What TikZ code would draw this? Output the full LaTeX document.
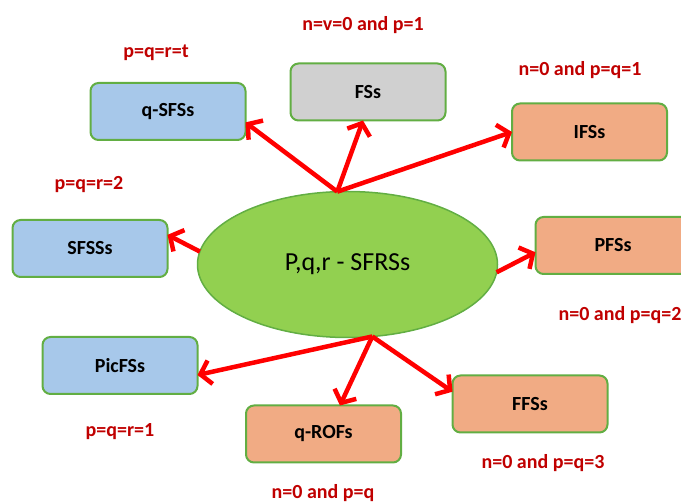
\documentclass[tikz,border=0pt]{standalone}
\usepackage{fontspec}
\setmainfont{Carlito}
\usetikzlibrary{shapes.geometric,arrows.meta}
\definecolor{setblue}{HTML}{A7C8EA}
\definecolor{setsalmon}{HTML}{F1AB84}
\definecolor{setgray}{HTML}{D0D0D0}
\definecolor{setedge}{HTML}{62AE43}
\definecolor{coregreen}{HTML}{92D050}
\definecolor{labelred}{HTML}{C00000}
\begin{document}
\begin{tikzpicture}[x=1pt,y=-1pt,
  setbox/.style={draw=setedge,line width=2pt,rounded corners=8pt,minimum width=155pt,
    minimum height=57pt,inner sep=0pt,outer sep=0pt,font=\fontsize{20}{22}\selectfont\bfseries},
  cond/.style={text=labelred,font=\fontsize{20}{22}\selectfont\bfseries},
  link/.style={draw=red,line width=4.5pt,-{Straight Barb[length=10pt,width=24pt]}}]
  \useasboundingbox (0,0) rectangle (681,502);
  \node[ellipse,draw=setedge,line width=1.5pt,fill=coregreen,minimum width=300pt,minimum height=146pt,
    inner sep=0pt,outer sep=0pt,font=\fontsize{26}{28}\selectfont] (core) at (347.5,264.5) {P,q,r - SFRSs};
  \node[setbox,fill=setblue] (qsfs) at (168,111.5) {q-SFSs};
  \node[setbox,fill=setgray] (fs) at (368,92) {FSs};
  \node[setbox,fill=setsalmon] (ifs) at (589.5,132) {IFSs};
  \node[setbox,fill=setblue] (sfss) at (90,248.5) {SFSSs};
  \node[setbox,fill=setsalmon] (pfs) at (613,245.5) {PFSs};
  \node[setbox,fill=setblue] (picfs) at (120,365.5) {PicFSs};
  \node[setbox,fill=setsalmon] (qrof) at (323.5,434) {q-ROFs};
  \node[setbox,fill=setsalmon] (ffs) at (530,404) {FFSs};
  \node[cond] (c-fs) at (363,25) {n=v=0 and p=1};
  \node[cond] (c-qsfs) at (156,53) {p=q=r=t};
  \node[cond] (c-ifs) at (580,70) {n=0 and p=q=1};
  \node[cond] (c-sfss) at (89,185) {p=q=r=2};
  \node[cond] (c-pfs) at (620,315) {n=0 and p=q=2};
  \node[cond] (c-picfs) at (120,432) {p=q=r=1};
  \node[cond] (c-ffs) at (543,463) {n=0 and p=q=3};
  \node[cond] (c-qrof) at (323,493) {n=0 and p=q};
  \draw[link] (core.98) -- (qsfs.-8);
  \draw[link] (core.98) -- (fs.-100);
  \draw[link] (core.98) -- (ifs.west);
  \draw[link] (core.175) -- (sfss.10);
  \draw[link] (core.-3) -- (pfs.185);
  \draw[link] (core.-71) -- (picfs.-7);
  \draw[link] (core.-71) -- (qrof.60);
  \draw[link] (core.-71) -- (ffs.171);
\end{tikzpicture}
\end{document}
